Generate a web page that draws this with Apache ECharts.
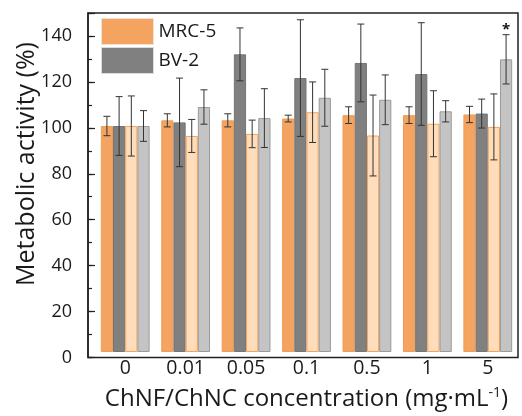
<!DOCTYPE html>
<html>
<head>
<meta charset="utf-8">
<script src="https://cdn.jsdelivr.net/npm/echarts@6/dist/echarts.min.js"></script>
<style>html,body{margin:0;padding:0;background:#fff;}#c{width:522px;height:416px;}</style>
</head>
<body>
<div id="c"></div>
<script>
const categories = ['0', '0.01', '0.05', '0.1', '0.5', '1', '5'];
const mrcChNF = [100, 102.5, 102.5, 103.3, 104.8, 104.8, 105.1];
const mrcChNFErr = [4.3, 2.9, 2.9, 1.5, 3.7, 3.7, 3.6];
const bvChNF = [100, 101.6, 131.7, 121.2, 127.9, 123, 105.5];
const bvChNFErr = [13, 19.6, 11.7, 25.8, 17.2, 22.7, 6.4];
const mrcChNC = [100, 95.6, 96.5, 106.1, 95.8, 101, 99.6];
const mrcChNCErr = [13.3, 7.3, 6.1, 13.4, 17.9, 14.6, 14.6];
const bvChNC = [100, 108.4, 103.5, 112.5, 111.6, 106.5, 129.5];
const bvChNCErr = [6.8, 7.6, 13, 12.6, 11, 4.7, 10.9];
const bvChNCSig = ['', '', '', '', '', '', '*'];
const yTickLabels = [0, 20, 40, 60, 80, 100, 120, 140];

const FONT = 'Open Sans';
const BAR_W = 12.2;

const barDefs = [
  { name: 'MRC-5', vals: mrcChNF, errs: mrcChNFErr, sig: null, color: '#F4A460', border: '#EE9C58' },
  { name: 'BV-2', vals: bvChNF, errs: bvChNFErr, sig: null, color: '#808080', border: '#747474' },
  { name: 'MRC-5 ChNC', vals: mrcChNC, errs: mrcChNCErr, sig: null, color: '#FFDDBA', border: '#F2A35E' },
  { name: 'BV-2 ChNC', vals: bvChNC, errs: bvChNCErr, sig: bvChNCSig, color: '#C4C4C4', border: '#9A9A9A' }
];

const series = [];
barDefs.forEach((d, i) => {
  series.push({
    type: 'bar', name: d.name, xAxisIndex: 1, yAxisIndex: 2,
    data: d.vals, barWidth: BAR_W, barGap: '0%',
    itemStyle: { color: d.color, borderColor: d.border, borderWidth: 1 },
    emphasis: { disabled: true }, z: 2
  });
});
barDefs.forEach((d, i) => {
  series.push({
    type: 'custom', name: d.name + ' err', xAxisIndex: 1, yAxisIndex: 2, z: 5,
    data: d.vals.map((v, k) => [k, v, d.errs[k]]),
    renderItem: function (params, api) {
      const k = api.value(0), v = api.value(1), e = api.value(2);
      const hi = api.coord([k, v + e]);
      const lo = api.coord([k, v - e]);
      const x = hi[0] + (i - 1.5) * BAR_W;
      const cap = 3.5;
      const st = { stroke: '#333', lineWidth: 1 };
      const children = [
        { type: 'line', shape: { x1: x, y1: hi[1], x2: x, y2: lo[1] }, style: st },
        { type: 'line', shape: { x1: x - cap, y1: hi[1], x2: x + cap, y2: hi[1] }, style: st },
        { type: 'line', shape: { x1: x - cap, y1: lo[1], x2: x + cap, y2: lo[1] }, style: st }
      ];
      if (d.sig && d.sig[params.dataIndex]) {
        children.push({ type: 'text', style: { text: d.sig[params.dataIndex], x: x, y: hi[1] - 4.5,
          align: 'center', verticalAlign: 'middle', font: 'bold 15px "' + FONT + '"', fill: '#111' } });
      }
      return { type: 'group', children: children };
    }
  });
});

const chart = echarts.init(document.getElementById('c'), null, { renderer: 'canvas' });
chart.setOption({
  animation: false,
  backgroundColor: '#fff',
  textStyle: { fontFamily: FONT },
  grid: [
    { left: 88, right: 4, top: 13, bottom: 58.5, show: true, borderColor: '#222', borderWidth: 1.5, backgroundColor: 'transparent' },
    { left: 95, right: 4, top: 13, bottom: 58.5 }
  ],
  xAxis: [
    { type: 'value', gridIndex: 0, min: 0, max: 1, show: false },
    { type: 'category', gridIndex: 1, data: categories,
      axisLine: { show: false }, axisTick: { show: false },
      axisLabel: { fontSize: 19.5, color: '#1a1a1a', margin: 6, fontFamily: FONT },
      name: '{a|ChNF/ChNC concentration (mg·mL}{s|-1}{a|)}',
      nameLocation: 'middle', nameGap: 34,
      nameTextStyle: { rich: {
        a: { fontSize: 24, color: '#1a1a1a', fontFamily: FONT, verticalAlign: 'bottom' },
        s: { fontSize: 14, color: '#1a1a1a', fontFamily: FONT, verticalAlign: 'bottom', padding: [0, 0, 11, 0] }
      } }
    }
  ],
  yAxis: [
    { type: 'value', gridIndex: 0, min: 0, max: 150, interval: 10, position: 'left',
      axisLine: { show: true, lineStyle: { color: '#222', width: 1.5 } },
      axisTick: { show: true, inside: true, length: 4, lineStyle: { color: '#222', width: 1.2 } },
      splitLine: { show: false },
      axisLabel: { fontSize: 18, color: '#1a1a1a', margin: 16, fontFamily: FONT,
        formatter: function (v) { return yTickLabels.indexOf(v) >= 0 ? String(v) : ''; } }
    },
    { type: 'value', gridIndex: 0, min: 0, max: 150, interval: 20, position: 'left',
      axisLine: { show: false },
      axisTick: { show: true, inside: true, length: 7, lineStyle: { color: '#222', width: 1.2 } },
      splitLine: { show: false }, axisLabel: { show: false }
    },
    { type: 'value', gridIndex: 1, min: 0, max: 150, show: false, splitLine: { show: false } }
  ],
  legend: {
    orient: 'vertical', left: 101, top: 18, padding: 0, itemWidth: 52, itemHeight: 26, itemGap: 2,
    icon: 'rect', selectedMode: false,
    textStyle: { fontSize: 19, color: '#1a1a1a', fontFamily: FONT },
    data: [
      { name: 'MRC-5', itemStyle: { borderColor: '#f3e2d2', borderWidth: 1 } },
      { name: 'BV-2', itemStyle: { borderColor: '#dcdcdc', borderWidth: 1 } }
    ]
  },
  graphic: [
    { type: 'text', x: 27, y: 164, rotation: Math.PI / 2, originX: 0, originY: 0,
      style: { text: 'Metabolic activity (%)', font: '25px "' + FONT + '"', fill: '#1a1a1a',
        align: 'center', verticalAlign: 'middle' } }
  ],
  series: series
});
</script>
</body>
</html>
